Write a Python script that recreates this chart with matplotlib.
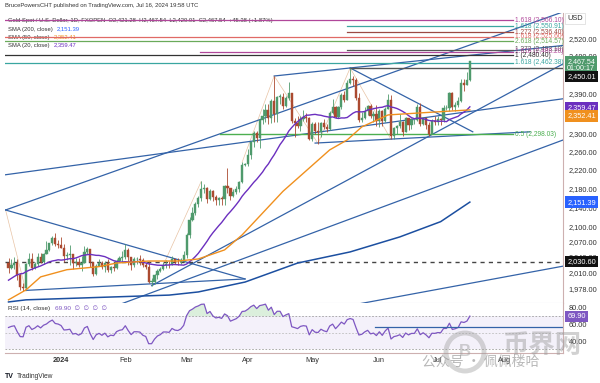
import numpy as np
import pandas as pd
import matplotlib
matplotlib.use('Agg')
import matplotlib.pyplot as plt
from matplotlib.ticker import FixedLocator, FuncFormatter, NullLocator
from matplotlib.patches import Circle
from matplotlib.transforms import IdentityTransform

plt.rcParams['font.family'] = ['Liberation Sans', 'DejaVu Sans', 'Noto Sans CJK SC']

# --- daily gold spot, FXOPEN ---
# warm-up closes (not drawn) for SMA 20 / RSI
oct_close = [1828, 1822, 1821, 1820, 1833, 1861, 1861, 1874, 1868, 1932, 1920, 1923, 1947, 1974,
             1981, 1973, 1971, 1979, 1985, 2006, 1996, 1983]
nov_close = [1982, 1985, 1992, 1978, 1969, 1950, 1958, 1940, 1946, 1963, 1959, 1981, 1980, 1977,
             1999, 1990, 1992, 2002, 2014, 2041, 2044, 2036]
dec_hist_close = [2072, 2029]

dec_close = [2019, 2025, 2028, 2004, 1981, 1980, 2027, 2036, 2019, 2027, 2040, 2031, 2046, 2053, 2067, 2077, 2065, 2063]
dec_high = [2038, 2035, 2040, 2035, 2008, 1990, 2028, 2047, 2048, 2030, 2047, 2047, 2048, 2071, 2068, 2082, 2088, 2074]
dec_low = [2009, 2016, 2017, 1995, 1976, 1973, 1975, 2023, 2015, 2016, 2022, 2029, 2026, 2045, 2052, 2064, 2061, 2058]

jan_close = [2058, 2042, 2043, 2045, 2028, 2030, 2024, 2029, 2049, 2055, 2030, 2006, 2023, 2029, 2021, 2029, 2014, 2020, 2018, 2032, 2037, 2039]
jan_high = [2079, 2065, 2050, 2064, 2046, 2038, 2037, 2041, 2062, 2059, 2055, 2031, 2027, 2035, 2033, 2032, 2036, 2023, 2028, 2035, 2041, 2051]
jan_low = [2057, 2030, 2034, 2024, 2016, 2022, 2021, 2013, 2028, 2046, 2021, 2002, 2005, 2022, 2016, 2011, 2011, 2009, 2013, 2017, 2030, 2030]

feb_close = [2054, 2039, 2025, 2035, 2035, 2034, 2024, 2020, 1992, 1992, 2004, 2013, 2017, 2025, 2025, 2024, 2035, 2031, 2030, 2034, 2044]
feb_high = [2065, 2058, 2040, 2039, 2040, 2044, 2038, 2031, 2032, 1999, 2006, 2016, 2021, 2031, 2034, 2033, 2041, 2036, 2038, 2038, 2052]
feb_low = [2036, 2025, 2015, 2021, 2027, 2025, 2020, 2017, 1990, 1984, 1988, 1996, 2011, 2014, 2019, 2019, 2024, 2026, 2025, 2026, 2031]

mar_close = [2083, 2115, 2128, 2148, 2160, 2179, 2182, 2158, 2175, 2162, 2156, 2160, 2157, 2186, 2181, 2165, 2172, 2179, 2194, 2230, 2233]
mar_high = [2088, 2120, 2141, 2152, 2165, 2195, 2189, 2184, 2179, 2177, 2167, 2163, 2164, 2188, 2223, 2182, 2178, 2185, 2195, 2236, 2234]
mar_low = [2038, 2077, 2113, 2125, 2142, 2154, 2171, 2150, 2155, 2154, 2146, 2146, 2146, 2146, 2171, 2156, 2162, 2169, 2173, 2191, 2229]

apr_close = [2251, 2280, 2300, 2290, 2329, 2339, 2352, 2333, 2372, 2344, 2383, 2383, 2361, 2379, 2392, 2327, 2322, 2316, 2332, 2337, 2335, 2286]
apr_high = [2266, 2282, 2305, 2305, 2331, 2354, 2365, 2365, 2378, 2431, 2384, 2390, 2392, 2385, 2418, 2391, 2334, 2338, 2338, 2352, 2346, 2336]
apr_low = [2229, 2243, 2270, 2280, 2268, 2321, 2325, 2320, 2323, 2326, 2325, 2365, 2355, 2358, 2376, 2322, 2292, 2311, 2305, 2328, 2325, 2285]

may_close = [2320, 2304, 2302, 2323, 2314, 2309, 2346, 2360, 2336, 2358, 2386, 2376, 2415, 2425, 2421, 2379, 2329, 2334, 2350, 2361, 2338, 2343, 2327]
may_high = [2326, 2326, 2325, 2326, 2331, 2321, 2351, 2378, 2362, 2362, 2392, 2397, 2422, 2450, 2430, 2426, 2392, 2348, 2358, 2364, 2365, 2351, 2364]
may_low = [2282, 2298, 2277, 2291, 2309, 2303, 2306, 2343, 2333, 2335, 2354, 2371, 2374, 2413, 2407, 2375, 2326, 2325, 2332, 2341, 2334, 2326, 2316]

jun_close = [2350, 2327, 2355, 2376, 2294, 2311, 2316, 2324, 2303, 2333, 2319, 2329, 2329, 2360, 2321, 2334, 2319, 2298, 2327, 2326]
jun_high = [2354, 2352, 2359, 2388, 2387, 2313, 2318, 2342, 2327, 2336, 2334, 2335, 2331, 2366, 2369, 2337, 2335, 2325, 2331, 2339]
jun_low = [2314, 2315, 2324, 2354, 2286, 2286, 2298, 2311, 2294, 2302, 2307, 2310, 2320, 2328, 2316, 2318, 2310, 2293, 2298, 2319]

jul_close = [2331, 2330, 2356, 2356, 2392, 2359, 2364, 2372, 2414, 2411, 2422, 2467.54]
jul_high = [2339, 2335, 2364, 2364, 2393, 2393, 2370, 2381, 2425, 2425, 2440, 2467.54]
jul_low = [2319, 2318, 2326, 2352, 2351, 2353, 2351, 2360, 2370, 2396, 2410, 2420.01]
jul16_open = 2421.28
rsi_last = 69.90

# SMA 50 / SMA 200
sma50_dates = ['2023-12-05', '2023-12-13', '2023-12-20', '2024-01-04', '2024-01-19', '2024-01-29',
               '2024-02-13', '2024-02-27', '2024-03-07', '2024-03-20', '2024-03-28', '2024-04-17',
               '2024-04-29', '2024-05-09', '2024-05-17', '2024-05-24', '2024-06-06', '2024-06-24', '2024-07-16']
sma50_vals = [1957, 1976, 2001, 2015, 2021, 2028, 2032, 2032, 2036, 2054, 2084, 2174,
              2218, 2263, 2285, 2314, 2341, 2346, 2352.41]
sma200_dates = ['2023-12-05', '2023-12-13', '2024-02-22', '2024-03-07', '2024-03-29', '2024-04-24',
                '2024-05-20', '2024-06-12', '2024-07-02', '2024-07-16']
sma200_vals = [1953, 1957, 1966, 1972, 1991, 2028, 2050, 2080, 2111, 2151.39]

# fibonacci extension levels
fib_prices = [2566.10, 2550.91, 2536.40, 2525.60, 2514.57, 2493.10, 2488.20, 2480.40, 2462.38]
fib_labels = ['1.618 (2,566.10)', '1.618 (2,550.91)', '1.272 (2,536.40)', '1.618 (2,525.60)',
              '2.618 (2,514.57)', '1.272 (2,493.10)', '1.618 (2,488.20)', '1 (2,480.40)', '1.618 (2,462.38)']
fib_colors = ['#b0479a', '#3aa6a0', '#9c4a44', '#e06a66', '#6aaa5a', '#555555', '#b0479a', '#333333', '#3aa6a0']
fib_start = [-19.2, 98, 98, -19.2, -19.2, 98, 47.6, -19.2, -19.2]
fib_end = 154.8

# trend lines: (bar0, price0, bar1, price1), bar 0 = 2 Jan 2024
trend_lines = [(-19, 2135, 172, 2587), (-19.2, 2209, 172, 2378), (73, 2431, 172, 2504),
               (-19, 2135, 63, 1997), (-12, 1975, 63, 1997), (31, 1984, 172, 2460),
               (18.5, 1945, 172, 2285), (99.7, 1947, 172, 2022), (99, 2450, 141, 2303),
               (87, 2278, 160.6, 2303)]
zigzag_bars = [[-19, -12], [35, 48], [62, 73, 88, 99, 113]]
zigzag_prices = [[2135, 1973], [2024, 2195], [2236, 2431, 2277, 2450, 2286]]

price_ticks = [1978, 2010, 2040, 2070, 2100, 2140, 2180, 2220, 2260, 2300, 2390, 2480, 2520]
month_bars = [0, 22, 43, 64, 86, 109, 129, 152]
month_labels = ['2024', 'Feb', 'Mar', 'Apr', 'May', 'Jun', 'Jul', 'Aug']

# --- assemble series ---
hist_close = oct_close + nov_close + dec_hist_close
close = dec_close + jan_close + feb_close + mar_close + apr_close + may_close + jun_close + jul_close
high = dec_high + jan_high + feb_high + mar_high + apr_high + may_high + jun_high + jul_high
low = dec_low + jan_low + feb_low + mar_low + apr_low + may_low + jun_low + jul_low

dates = pd.bdate_range('2023-10-02', '2024-07-16')
dates = dates[~dates.isin(pd.to_datetime(['2023-12-25', '2024-01-01']))]
assert len(dates) == len(hist_close) + len(close)
all_close = pd.Series(hist_close + close, index=dates, dtype=float)
bar = pd.Series(np.arange(len(dates)) - dates.get_loc(pd.Timestamp('2024-01-02')), index=dates)

cd = dates[len(hist_close):]
x = bar[cd].values
c = np.array(close, float)
o = all_close.shift(1)[cd].values
o[-1] = jul16_open
h = np.maximum(np.array(high, float), np.maximum(o, c))
l = np.minimum(np.array(low, float), np.minimum(o, c))

sma20 = all_close.rolling(20).mean()[cd].values
delta = all_close.diff()
avg_g = delta.clip(lower=0).ewm(alpha=1 / 14, adjust=False).mean()
avg_l = (-delta.clip(upper=0)).ewm(alpha=1 / 14, adjust=False).mean()
rsi = (100 - 100 / (1 + avg_g / avg_l))[cd].values

# --- figure ---
fig = plt.figure(figsize=(6, 3.83), dpi=100)
ax = fig.add_axes([5 / 600, 1 - 303 / 383, 558 / 600, 290 / 383])
ax2 = fig.add_axes([5 / 600, 1 - 353 / 383, 558 / 600, 50 / 383], sharex=ax)

ax.set_yscale('log')
ax.set_ylim(1951, 2584)
ax.set_xlim(-19.2, 171.9)

up_c, dn_c = '#4f9a6c', '#ab4a30'
cols = np.where(c >= o, up_c, dn_c)
ax.vlines(x, l, h, colors=cols, lw=0.6, zorder=4)
ax.bar(x, np.where(np.abs(c - o) < 0.6, 0.6, c - o), bottom=o, width=0.75, color=cols,
       edgecolor=cols, lw=0.3, zorder=5)

ax.plot(x, sma20, color='#6b2fbf', lw=1.0, zorder=6)
ax.plot(bar[pd.to_datetime(sma50_dates)].values, sma50_vals, color='#f0901e', lw=1.0, zorder=6)
ax.plot(bar[pd.to_datetime(sma200_dates)].values, sma200_vals, color='#1c4fa0', lw=1.1, zorder=6)

for b0, p0, b1, p1 in trend_lines:
    ax.plot([b0, b1], [p0, p1], color='#3463a8', lw=0.9, zorder=3)
for zb, zp in zip(zigzag_bars, zigzag_prices):
    ax.plot(zb, zp, color='#e2b48e', lw=0.5, alpha=0.8, zorder=2)

for p, lab, col, s in zip(fib_prices, fib_labels, fib_colors, fib_start):
    ax.plot([s, fib_end], [p, p], color=col, lw=0.9, zorder=3)
    ax.text(fib_end + 0.8, p, lab, color=col, fontsize=4.8, va='center', ha='left', zorder=7)

ax.plot([99, 171.9], [2450.01, 2450.01], color='#555555', lw=1.0, zorder=3)
ax.plot([54.5, fib_end], [2298.03, 2298.03], color='#4caf50', lw=1.0, zorder=3)
ax.text(fib_end + 0.8, 2298.03, '0.5 (2,298.03)', color='#4caf50', fontsize=4.8, va='center', zorder=7)
ax.axhline(2030.60, color='#444444', lw=1.0, dashes=(3, 3), zorder=3)

ax.yaxis.tick_right()
ax.yaxis.set_major_locator(FixedLocator(price_ticks))
ax.yaxis.set_minor_locator(NullLocator())
ax.yaxis.set_major_formatter(FuncFormatter(lambda v, p: f'{v:,.2f}'))
ax.tick_params(axis='y', length=0, pad=4, labelsize=5.3, labelcolor='#333333')
ax.tick_params(axis='x', length=0, labelbottom=False)
for s in ['top', 'left']:
    ax.spines[s].set_visible(False)
ax.spines['bottom'].set_color('#d8d8e0')
ax.spines['right'].set_color('#cdb0b0')


def axis_box(axis, val, text, fc, dy=0, tc='white', ec='none', fs=5.3):
    axis.annotate(text, xy=(1.0, val), xycoords=('axes fraction', 'data'), xytext=(3, dy),
                  textcoords='offset points', fontsize=fs, color=tc, va='center', ha='left',
                  linespacing=1.05, bbox=dict(boxstyle='square,pad=0.3', fc=fc, ec=ec, lw=0.4),
                  zorder=10, annotation_clip=False)


axis_box(ax, 2467.54, '2,467.54\n01:00:17', '#4f9a6c', dy=-3.2, fs=5.1)
axis_box(ax, 2450.01, '2,450.01', '#111111', dy=-6)
axis_box(ax, 2359.47, '2,359.47', '#6b2fbf', dy=-0.5)
axis_box(ax, 2352.41, '2,352.41', '#f0901e', dy=-4.3)
axis_box(ax, 2151.39, '2,151.39', '#2962ff')
axis_box(ax, 2030.60, '2,030.60', '#111111')
axis_box(ax, 2566.10, 'USD', '#ffffff', dy=1, tc='#333333', ec='#d0d0d0')

# RSI pane
ax2.set_ylim(25.5, 86)
ax2.axhspan(30, 70, color='#7e57c2', alpha=0.08, lw=0)
ax2.axhline(70, color='#9e9e9e', lw=0.6, dashes=(2, 2))
ax2.axhline(50, color='#bdbdbd', lw=0.6, dashes=(2, 2))
ax2.axhline(30, color='#9e9e9e', lw=0.6, dashes=(2, 2))
ax2.fill_between(x, 70, rsi, where=rsi > 70, color='#4caf50', alpha=0.2, lw=0, interpolate=True)
ax2.plot(x, rsi, color='#7e57c2', lw=0.9)
ax2.plot([107.5, 171.9], [56.4, 56.4], color='#3463a8', lw=0.9)
ax2.yaxis.tick_right()
ax2.set_yticks([40, 60, 80])
ax2.yaxis.set_major_formatter(FuncFormatter(lambda v, p: f'{v:.2f}'))
ax2.tick_params(axis='y', length=0, pad=4, labelsize=5.3, labelcolor='#333333')
ax2.set_xticks(month_bars)
ax2.set_xticklabels(month_labels)
ax2.tick_params(axis='x', length=0, pad=3, labelsize=5.3, labelcolor='#333333')
ax2.get_xticklabels()[0].set_fontweight('bold')
for s in ['top', 'left']:
    ax2.spines[s].set_visible(False)
ax2.spines['bottom'].set_color('#cdb0b0')
ax2.spines['right'].set_color('#cdb0b0')
axis_box(ax2, rsi_last, f'{rsi_last:.2f}', '#7e57c2')
rt = ax2.text(0.006, 0.86, 'RSI (14, close)', transform=ax2.transAxes, fontsize=4.6, color='#333333')
ax2.annotate(f'{rsi_last:.2f}  \u2205  \u2205  \u2205  \u2205', xy=(1, 0), xycoords=rt, xytext=(3, 0),
             textcoords='offset points', fontsize=4.6, color='#7e57c2', va='bottom')

# header and legend
fig.text(5 / 600, 1 - 6 / 383, 'BrucePowersCHT published on TradingView.com, Jul 16, 2024 19:58 UTC',
         fontsize=4.2, color='#333333', va='center')
leg_y = [20.5, 29, 37, 45]
leg_main = ['Gold Spot / U.S. Dollar, 1D, FXOPEN  O2,421.28  H2,467.54  L2,420.01  C2,467.54  +45.38 (+1.87%)',
            'SMA (200, close)', 'SMA (50, close)', 'SMA (20, close)']
leg_vals = ['', '2,151.39', '2,352.41', '2,359.47']
leg_cols = ['#333333', '#2962ff', '#f0901e', '#6b2fbf']
for yy, t, v, col in zip(leg_y, leg_main, leg_vals, leg_cols):
    tt = ax.text(8 / 600, 1 - yy / 383, t, transform=fig.transFigure, fontsize=4.2, color='#333333',
                 va='center', zorder=1)
    if v:
        ax.annotate(v, xy=(1, 0.5), xycoords=tt, xytext=(3, 0), textcoords='offset points',
                    fontsize=4.2, color=col, va='center', zorder=1)

fig.text(5 / 600, 1 - 377 / 383, 'TV', fontsize=5, fontweight='bold', color='#131722', va='center')
fig.text(17 / 600, 1 - 377 / 383, 'TradingView', fontsize=4.8, color='#333333', va='center')

# watermark
fig.add_artist(Circle((465, 383 - 352), 19, transform=IdentityTransform(),
                      fill=False, ec='#9a9a9a', lw=3.5, alpha=0.4))
fig.text(465 / 600, 1 - 352 / 383, 'B', fontsize=12, fontweight='bold', color='#9a9a9a', alpha=0.45,
         ha='center', va='center')
fig.text(542 / 600, 1 - 346 / 383, '币界网', family=['Noto Sans CJK SC'], fontsize=19,
         fontweight='bold', color='#9a9a9a', alpha=0.45, ha='center', va='center')
fig.text(422 / 600, 1 - 362 / 383, '公众号 · 佩佩楼哈', family=['Noto Sans CJK SC'], fontsize=10,
         color='#8a8a8a', alpha=0.6, ha='left', va='center')

fig.savefig('out.png', dpi=100)
